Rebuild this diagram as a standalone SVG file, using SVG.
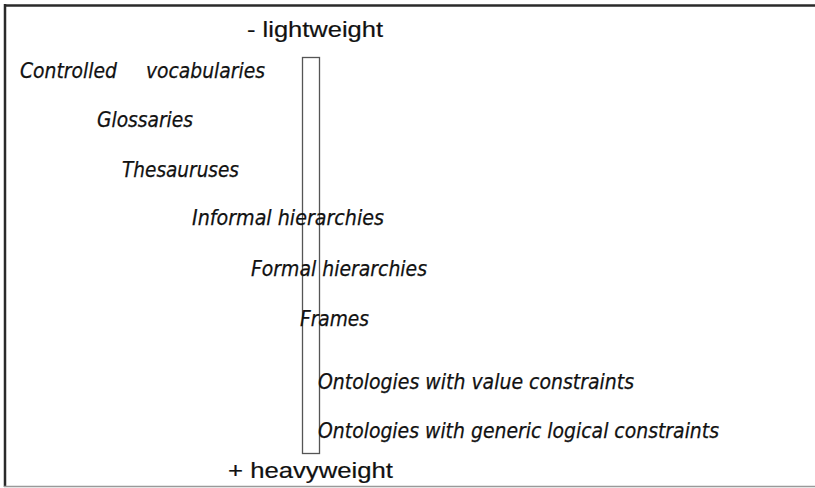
<svg xmlns="http://www.w3.org/2000/svg" width="815" height="488" viewBox="0 0 815 488">
<style>
.lbl{font-family:"DejaVu Sans","Verdana",sans-serif;font-style:italic;font-size:20.5px;fill:#111;stroke:#111;stroke-width:0.25}
.end{font-family:"Liberation Sans",Arial,sans-serif;font-size:22px;fill:#111;stroke:#111;stroke-width:0.2}
.frame{stroke:#2a2a2a;stroke-width:2.5;fill:none}
</style>
<rect width="815" height="488" fill="#fff"/>
<g id="frame">
<line class="frame" x1="4" y1="5.5" x2="815" y2="5.5"/>
<line class="frame" x1="5" y1="4" x2="5" y2="487"/>
<line x1="4" y1="486.5" x2="815" y2="486.5" stroke="#999" stroke-width="1.5"/>
</g>
<g id="scale">
<rect x="302.5" y="57.5" width="17" height="396" fill="none" stroke="#555" stroke-width="1.3"/>
</g>
<g id="connectors"></g>
<g id="n-lightweight"><text class="end" x="247" y="37" textLength="136" lengthAdjust="spacingAndGlyphs">-  lightweight</text></g>
<g id="n-controlled"><text class="lbl" y="78"><tspan x="20" textLength="97" lengthAdjust="spacingAndGlyphs">Controlled</tspan><tspan x="146" textLength="119" lengthAdjust="spacingAndGlyphs">vocabularies</tspan></text></g>
<g id="n-glossaries"><text class="lbl" x="97" y="127" textLength="96" lengthAdjust="spacingAndGlyphs">Glossaries</text></g>
<g id="n-thesauruses"><text class="lbl" x="122" y="177" textLength="117" lengthAdjust="spacingAndGlyphs">Thesauruses</text></g>
<g id="n-informal"><text class="lbl" x="192" y="225" textLength="192" lengthAdjust="spacingAndGlyphs">Informal hierarchies</text></g>
<g id="n-formal"><text class="lbl" x="251" y="276" textLength="176" lengthAdjust="spacingAndGlyphs">Formal hierarchies</text></g>
<g id="n-frames"><text class="lbl" x="300" y="326" textLength="69" lengthAdjust="spacingAndGlyphs">Frames</text></g>
<g id="n-value"><text class="lbl" x="318" y="389" textLength="316" lengthAdjust="spacingAndGlyphs">Ontologies with value constraints</text></g>
<g id="n-generic"><text class="lbl" x="318" y="438" textLength="401" lengthAdjust="spacingAndGlyphs">Ontologies with generic logical constraints</text></g>
<g id="n-heavyweight"><text class="end" x="228" y="478" textLength="165" lengthAdjust="spacingAndGlyphs">+  heavyweight</text></g>
</svg>
